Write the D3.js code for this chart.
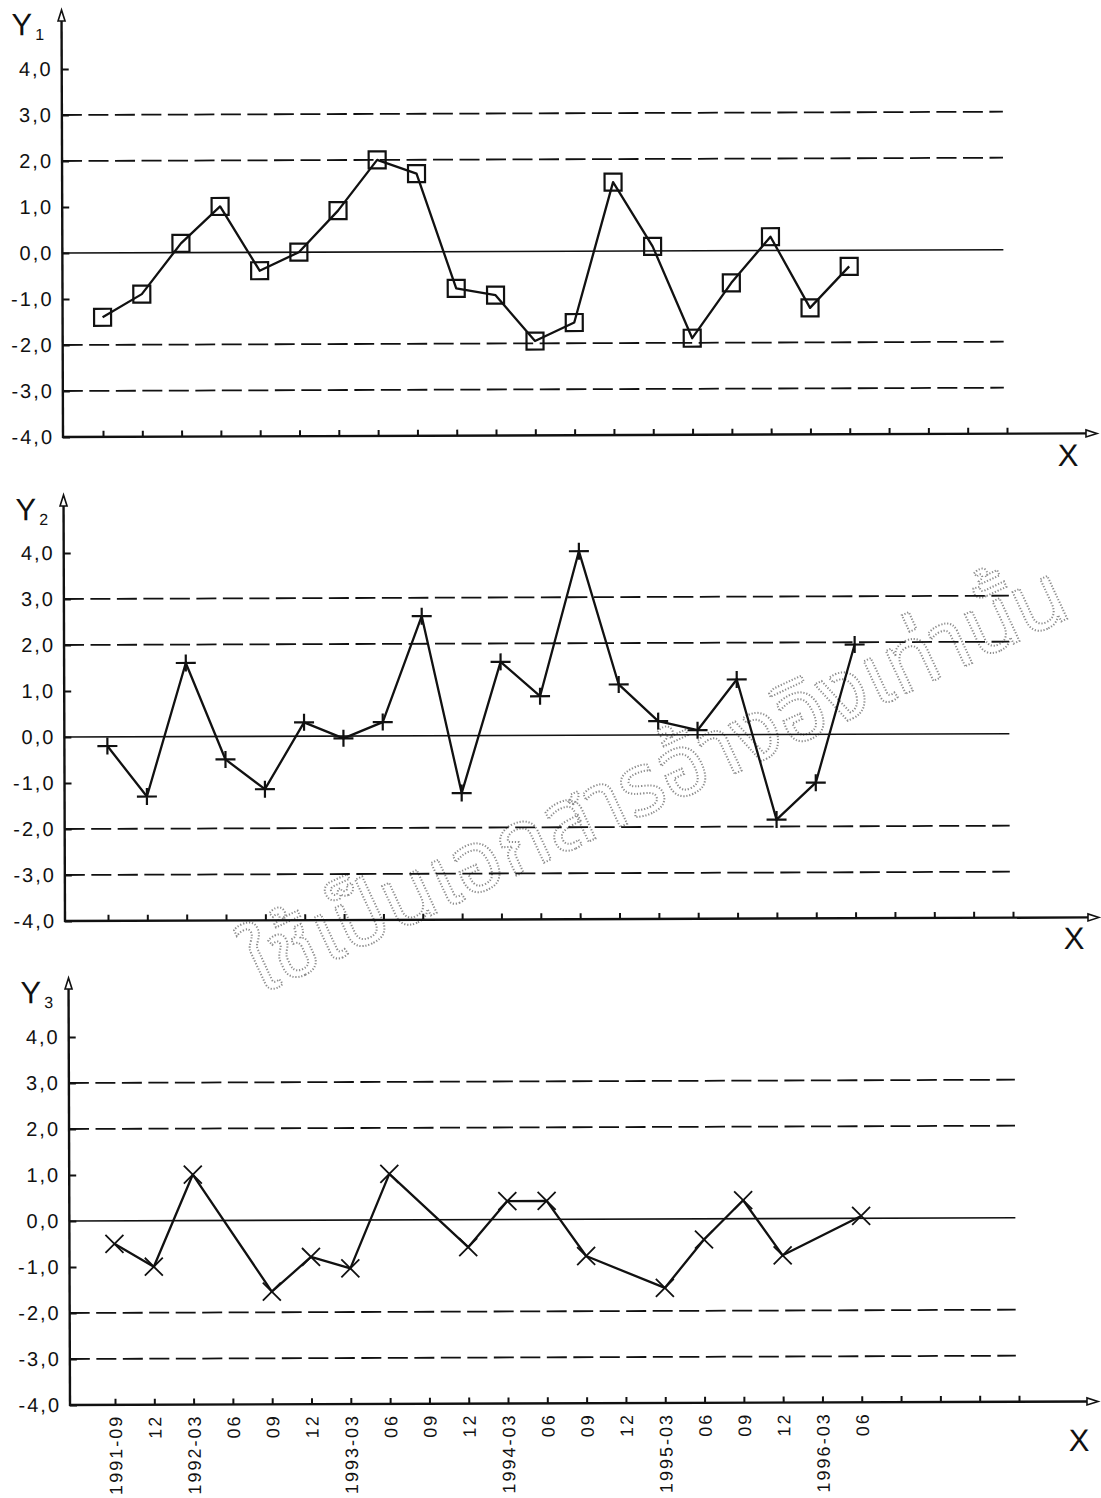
<!DOCTYPE html>
<html>
<head>
<meta charset="utf-8">
<script src="https://cdn.jsdelivr.net/npm/d3@7"></script>
<style>
  body { margin: 0; background: #fff; }
  svg { display: block; }
  text { font-family: "Liberation Sans", Arial, sans-serif; }
</style>
</head>
<body>
<svg id="chart" width="1101" height="1498"></svg>
<script>
// Quarter labels along the time axis (first 20 of the 24 tick positions)
const quarters = ["1991-09","12","1992-03","06","09","12","1993-03","06","09","12",
                  "1994-03","06","09","12","1995-03","06","09","12","1996-03","06"];
const tickCount = 24;
const yTicks = [4, 3, 2, 1, 0, -1, -2, -3, -4];
const limitLines = [3, 2, -2, -3];

// Series values per quarter (null = no observation)
const y1Values = [-1.4, -0.9, 0.2, 1.0, -0.4, 0.0, 0.9, 2.0, 1.7, -0.8,
                  -0.95, -1.95, -1.55, 1.5, 0.1, -1.9, -0.7, 0.3, -1.25, -0.35];
const y2Values = [-0.2, -1.3, 1.6, -0.5, -1.15, 0.3, -0.05, 0.3, 2.6, -1.25,
                  1.6, 0.85, 4.0, 1.1, 0.3, 0.1, 1.2, -1.85, -1.05, 1.95];
const y3Values = [-0.5, -1.0, 1.0, null, -1.55, -0.8, -1.05, 1.0, null, -0.6,
                  0.4, 0.4, -0.8, null, -1.5, -0.45, 0.4, -0.8, null, 0.05];

const watermarkText = "ใช้เป็นเอกสารอ้างอิงเท่านั้น";

// Panel geometry
const panels = [
  { sub: "1", values: y1Values, marker: "square", axisX: 63, yTop: 69,  yBottom: 437,  arrowY: 10,
    x0: 103, x1: 1007, xEnd: 1097, lineEnd: 1004, titleX: 13, titleY: 35,  xLab: [1068, 459],  labels: false },
  { sub: "2", values: y2Values, marker: "plus",   axisX: 65, yTop: 553, yBottom: 921,  arrowY: 495,
    x0: 108, x1: 1013, xEnd: 1099, lineEnd: 1010, titleX: 17, titleY: 520, xLab: [1074, 942],  labels: false },
  { sub: "3", values: y3Values, marker: "cross",  axisX: 70, yTop: 1037, yBottom: 1405, arrowY: 978,
    x0: 115, x1: 1019, xEnd: 1098, lineEnd: 1016, titleX: 22, titleY: 1003, xLab: [1079, 1444], labels: true }
];

const ink = "#111";
const svg = d3.select("#chart");
const fmt = v => (v < 0 ? "-" : "") + Math.abs(v).toFixed(1).replace(".", ",");

const markerPath = {
  square: "M-8.5,-8.5H8.5V8.5H-8.5Z",
  plus:   "M-10,0H10M0,-8.5V8.5",
  cross:  "M-9,-9L9,9M-9,9L9,-9"
};

// stippled outline watermark, drawn underneath the panels
svg.append("text")
  .attr("transform", "translate(262,994) rotate(-25)")
  .style("font-family", "'Noto Sans Thai', 'Noto Sans', sans-serif")
  .style("font-size", "86px")
  .style("fill", "none")
  .style("stroke", "#8c8c8c")
  .style("stroke-width", 2)
  .style("stroke-dasharray", "1.2,1.8")
  .text(watermarkText);

panels.forEach(p => {
  // the sheet sits very slightly rotated
  const g = svg.append("g")
    .attr("transform", `rotate(-0.2,${p.axisX},${p.yBottom})`);
  const x = d3.scaleLinear().domain([0, tickCount - 1]).range([p.x0, p.x1]);
  const y = d3.scaleLinear().domain([-4, 4]).range([p.yBottom, p.yTop]);

  // dashed control limits
  g.selectAll("line.limit").data(limitLines).join("line")
    .attr("x1", p.axisX).attr("x2", p.lineEnd)
    .attr("y1", d => y(d)).attr("y2", d => y(d))
    .attr("stroke", ink).attr("stroke-width", 1.8)
    .attr("stroke-dasharray", "20,6.5");

  // centre line
  g.append("line")
    .attr("x1", p.axisX).attr("x2", p.lineEnd)
    .attr("y1", y(0)).attr("y2", y(0))
    .attr("stroke", ink).attr("stroke-width", 1.6);

  // y axis: ticks pointing inward, comma decimals
  const yAxis = d3.axisLeft(y).tickValues(yTicks).tickSizeInner(-7).tickSizeOuter(0)
    .tickPadding(9).tickFormat(fmt);
  const ya = g.append("g").attr("transform", `translate(${p.axisX},0)`).call(yAxis);
  ya.select(".domain").remove();
  ya.selectAll("line").attr("stroke", ink).attr("stroke-width", 2);
  ya.selectAll("text").attr("font-size", 20).attr("letter-spacing", 2)
    .attr("fill", ink).attr("font-family", "Liberation Sans, Arial, sans-serif");

  // x axis: upward ticks
  const xAxis = d3.axisBottom(x).tickValues(d3.range(tickCount)).tickSizeInner(-6).tickSizeOuter(0)
    .tickPadding(10).tickFormat(i => p.labels && i < quarters.length ? quarters[i] : "");
  const xa = g.append("g").attr("transform", `translate(0,${p.yBottom})`).call(xAxis);
  xa.select(".domain").remove();
  xa.selectAll("line").attr("stroke", ink).attr("stroke-width", 2);
  xa.selectAll("text")
    .attr("transform", "rotate(-90)")
    .attr("x", -10).attr("y", 0).attr("dy", "0.36em")
    .attr("text-anchor", "end")
    .attr("font-size", 18).attr("letter-spacing", 2)
    .attr("fill", ink).attr("font-family", "Liberation Sans, Arial, sans-serif");

  // axis lines with open arrow heads
  g.append("line").attr("x1", p.axisX).attr("x2", p.axisX)
    .attr("y1", p.yBottom + 1).attr("y2", p.arrowY + 8)
    .attr("stroke", ink).attr("stroke-width", 2.4);
  g.append("path")
    .attr("d", `M${p.axisX},${p.arrowY}L${p.axisX - 3.5},${p.arrowY + 11}L${p.axisX + 3.5},${p.arrowY + 11}Z`)
    .attr("fill", "#fff").attr("stroke", ink).attr("stroke-width", 1.6);
  g.append("line").attr("x1", p.axisX - 1).attr("x2", p.xEnd - 8)
    .attr("y1", p.yBottom).attr("y2", p.yBottom)
    .attr("stroke", ink).attr("stroke-width", 2.4);
  g.append("path")
    .attr("d", `M${p.xEnd},${p.yBottom}L${p.xEnd - 11},${p.yBottom - 3.5}L${p.xEnd - 11},${p.yBottom + 3.5}Z`)
    .attr("fill", "#fff").attr("stroke", ink).attr("stroke-width", 1.6);

  // axis titles
  const t = g.append("text").attr("x", p.titleX).attr("y", p.titleY)
    .attr("font-size", 31).attr("fill", ink);
  t.append("tspan").text("Y");
  t.append("tspan").attr("dx", 3).attr("dy", 5).attr("font-size", 16).text(p.sub);
  g.append("text").attr("x", p.xLab[0]).attr("y", p.xLab[1])
    .attr("text-anchor", "middle").attr("dominant-baseline", "central")
    .attr("font-size", 31).attr("fill", ink).text("X");

  // series line (gaps bridged) and markers
  const pts = p.values.map((v, i) => ({ i, v })).filter(d => d.v != null);
  g.append("path").datum(pts)
    .attr("d", d3.line().x(d => x(d.i)).y(d => y(d.v)))
    .attr("fill", "none").attr("stroke", ink).attr("stroke-width", 2.3)
    .attr("stroke-linejoin", "round");
  g.selectAll("path.mk").data(pts).join("path")
    .attr("class", "mk")
    .attr("transform", d => `translate(${x(d.i)},${y(d.v)})`)
    .attr("d", markerPath[p.marker])
    .attr("fill", "none").attr("stroke", ink)
    .attr("stroke-width", p.marker === "cross" ? 1.8 : 2.2);
});
</script>
</body>
</html>
